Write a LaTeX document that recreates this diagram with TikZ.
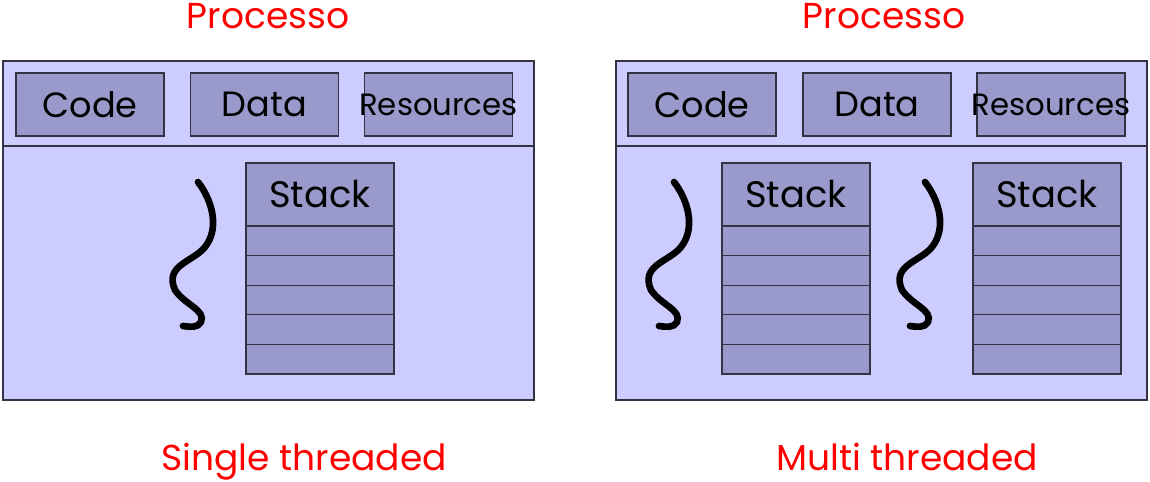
\documentclass[tikz,border=0pt]{standalone}
\usepackage{fontspec}
\setmainfont{Poppins}
\usetikzlibrary{calc}

\definecolor{procfill}{HTML}{CCCCFF}
\definecolor{boxfill}{HTML}{9999CC}
\definecolor{boxline}{HTML}{333344}

\tikzset{
  proc/.style={draw=boxline, fill=procfill, line width=0.6pt},
  segbox/.style={draw=boxline, fill=boxfill, line width=0.6pt, minimum width=2.96cm, minimum height=1.26cm, inner sep=0pt, font=\fontsize{20}{20}\selectfont},
  rowbox/.style={draw=boxline, fill=boxfill, line width=0.6pt, minimum width=2.96cm, minimum height=0.592cm, inner sep=0pt},
  title/.style={text=red, inner sep=0pt, font=\fontsize{20.5}{20.5}\selectfont},
  thread/.style={line width=3.8pt, line cap=round}
}

\begin{document}
\begin{tikzpicture}[x=0.02cm, y=-0.02cm]
\useasboundingbox (0,0) rectangle (1150,481);

% processes
\draw[proc] (3,61) rectangle (534,400);
\draw[proc] (3,146) -- (534,146);
\draw[proc] (616,61) rectangle (1147,400);
\draw[proc] (616,146) -- (1147,146);

\node[title] (p1) at (268,16) {Processo};
\node[title] (p2) at (884,16) {Processo};
\node[title, anchor=base] (t1) at (304,470) {Single threaded};
\node[title, anchor=base] (t2) at (907,470) {Multi threaded};

% shared segments
\node[segbox] (code1) at (90,104.5) {Code};
\node[segbox] (data1) at (264.5,104.5) {Data};
\node[segbox, font=\fontsize{17.5}{17.5}\selectfont] (res1) at (438.5,104.5) {\makebox[0pt]{Resources}};
\node[segbox] (code2) at (702,104.5) {Code};
\node[segbox] (data2) at (877,104.5) {Data};
\node[segbox, font=\fontsize{17.5}{17.5}\selectfont] (res2) at (1051,104.5) {\makebox[0pt]{Resources}};

% stacks and threads
\foreach \sx/\nm in {246/sa, 722/sb, 973/sc} {
  \node[segbox, font=\fontsize{21}{21}\selectfont] (\nm) at (\sx+74,194.5) {Stack};
  \foreach \i in {1,...,5}
    \node[rowbox] (\nm\i) at (\sx+74,211.2+29.6*\i) {};
  \draw[thread] (\sx-48,182) .. controls (\sx-34,200) and (\sx-26,228) .. (\sx-41,247)
    .. controls (\sx-53,262) and (\sx-82,265) .. (\sx-71,290)
    .. controls (\sx-61,305) and (\sx-40,310) .. (\sx-45,322)
    .. controls (\sx-48,328) and (\sx-56,327) .. (\sx-63,326);
}
\end{tikzpicture}
\end{document}
